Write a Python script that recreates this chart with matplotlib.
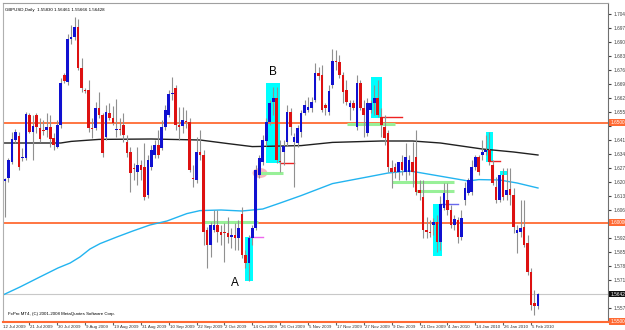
import matplotlib.pyplot as plt
from matplotlib.patches import Rectangle, Ellipse
from matplotlib.transforms import blended_transform_factory

# GBPUSD daily candles (oldest first)
opens = [1.6208, 1.6223, 1.6303, 1.6413, 1.6433, 1.6323, 1.6323, 1.6538, 1.6453, 1.6538,
         1.6473, 1.6463, 1.6463, 1.6478, 1.6423, 1.6378, 1.6488, 1.6738, 1.6703, 1.6918,
         1.6928, 1.6978, 1.6773, 1.6663, 1.6663, 1.6473, 1.6473, 1.6573, 1.6538, 1.6428,
         1.6548, 1.6523, 1.6463, 1.6468, 1.6488, 1.6403, 1.6353, 1.6273, 1.6253, 1.6288,
         1.6278, 1.6138, 1.6278, 1.6338, 1.6388, 1.6373, 1.6478, 1.6538, 1.6643, 1.6673,
         1.6488, 1.6483, 1.6508, 1.6503, 1.6223, 1.6213, 1.6353, 1.6338, 1.5963, 1.5888,
         1.5963, 1.5988, 1.5953, 1.5953, 1.5948, 1.5928, 1.5938, 1.5923, 1.6043, 1.5838,
         1.5798, 1.5923, 1.5973, 1.6238, 1.6303, 1.6408, 1.6503, 1.6603, 1.6623, 1.6308,
         1.6353, 1.6403, 1.6553, 1.6403, 1.6398, 1.6453, 1.6548, 1.6563, 1.6573, 1.6613,
         1.6748, 1.6738, 1.6588, 1.6553, 1.6688, 1.6808, 1.6803, 1.6738, 1.6663, 1.6578,
         1.6598, 1.6478, 1.6698, 1.6573, 1.6448, 1.6563, 1.6598, 1.6623, 1.6528, 1.6478,
         1.6448, 1.6273, 1.6278, 1.6253, 1.6303, 1.6253, 1.6253, 1.6303, 1.6328, 1.6163,
         1.6128, 1.5963, 1.5953, 1.5988, 1.6003, 1.5903, 1.6073, 1.6113, 1.6063, 1.5988,
         1.6013, 1.5928, 1.6113, 1.6148, 1.6153, 1.6278, 1.6328, 1.6338, 1.6353, 1.6363,
         1.6288, 1.6178, 1.6113, 1.6238, 1.6138, 1.6168, 1.6138, 1.5948, 1.5953, 1.5978,
         1.5898, 1.5753, 1.5598, 1.5583]
highs = [1.6223, 1.6323, 1.6453, 1.6468, 1.6453, 1.6373, 1.6553, 1.6548, 1.6538, 1.6548,
         1.6523, 1.6513, 1.6548, 1.6538, 1.6448, 1.6513, 1.6723, 1.6748, 1.6943, 1.6988,
         1.7028, 1.7018, 1.6823, 1.6673, 1.6713, 1.6523, 1.6603, 1.6653, 1.6548, 1.6588,
         1.6598, 1.6583, 1.6618, 1.6523, 1.6548, 1.6438, 1.6378, 1.6298, 1.6378, 1.6313,
         1.6398, 1.6338, 1.6388, 1.6413, 1.6463, 1.6513, 1.6588, 1.6663, 1.6728, 1.6688,
         1.6578, 1.6578, 1.6563, 1.6523, 1.6288, 1.6428, 1.6463, 1.6363, 1.5978, 1.6003,
         1.6063, 1.6063, 1.5988, 1.5998, 1.6028, 1.5973, 1.5998, 1.6013, 1.6078, 1.5863,
         1.5938, 1.5988, 1.6288, 1.6338, 1.6438, 1.6523, 1.6613, 1.6678, 1.6678, 1.6413,
         1.6413, 1.6588, 1.6573, 1.6448, 1.6488, 1.6563, 1.6613, 1.6628, 1.6628, 1.6798,
         1.6778, 1.6788, 1.6598, 1.6688, 1.6868, 1.6863, 1.6838, 1.6753, 1.6713, 1.6613,
         1.6613, 1.6738, 1.6713, 1.6613, 1.6623, 1.6613, 1.6688, 1.6713, 1.6573, 1.6538,
         1.6463, 1.6313, 1.6298, 1.6303, 1.6338, 1.6398, 1.6338, 1.6403, 1.6463, 1.6213,
         1.6213, 1.6028, 1.6013, 1.6023, 1.6038, 1.6133, 1.6198, 1.6198, 1.6088, 1.6038,
         1.6028, 1.6063, 1.6203, 1.6223, 1.6313, 1.6338, 1.6338, 1.6413, 1.6438, 1.6453,
         1.6313, 1.6228, 1.6238, 1.6273, 1.6273, 1.6273, 1.6173, 1.5988, 1.6113, 1.6113,
         1.5938, 1.5773, 1.5663, 1.5646]
lows = [1.6028, 1.6203, 1.6293, 1.6398, 1.6263, 1.6308, 1.6313, 1.6448, 1.6313, 1.6448,
        1.6403, 1.6438, 1.6428, 1.6378, 1.6363, 1.6373, 1.6473, 1.6698, 1.6688, 1.6893,
        1.6913, 1.6763, 1.6653, 1.6648, 1.6453, 1.6423, 1.6463, 1.6523, 1.6328, 1.6413,
        1.6513, 1.6488, 1.6428, 1.6438, 1.6403, 1.6328, 1.6153, 1.6213, 1.6188, 1.6213,
        1.6113, 1.6123, 1.6263, 1.6323, 1.6323, 1.6363, 1.6463, 1.6528, 1.6613, 1.6463,
        1.6413, 1.6448, 1.6473, 1.6253, 1.6178, 1.6198, 1.6313, 1.5888, 1.5773, 1.5828,
        1.5953, 1.5903, 1.5888, 1.5803, 1.5898, 1.5873, 1.5863, 1.5863, 1.5823, 1.5773,
        1.5708, 1.5888, 1.5963, 1.6223, 1.6288, 1.6383, 1.6488, 1.6538, 1.6298, 1.6253,
        1.6288, 1.6383, 1.6438, 1.6178, 1.6378, 1.6428, 1.6538, 1.6553, 1.6553, 1.6603,
        1.6713, 1.6553, 1.6538, 1.6538, 1.6673, 1.6763, 1.6723, 1.6598, 1.6588, 1.6513,
        1.6563, 1.6463, 1.6563, 1.6428, 1.6433, 1.6548, 1.6538, 1.6528, 1.6428, 1.6388,
        1.6253, 1.6173, 1.6223, 1.6213, 1.6238, 1.6213, 1.6238, 1.6178, 1.6138, 1.6113,
        1.5923, 1.5923, 1.5928, 1.5938, 1.5853, 1.5863, 1.6063, 1.6038, 1.5973, 1.5963,
        1.5898, 1.5913, 1.6088, 1.6138, 1.6138, 1.6263, 1.6238, 1.6313, 1.6338, 1.6288,
        1.6188, 1.6098, 1.6103, 1.6113, 1.6113, 1.6088, 1.5948, 1.5848, 1.5928, 1.5878,
        1.5738, 1.5563, 1.5538, 1.5567]
closes = [1.6218, 1.6313, 1.6418, 1.6453, 1.6278, 1.6328, 1.6543, 1.6453, 1.6483, 1.6478,
          1.6418, 1.6458, 1.6478, 1.6418, 1.6388, 1.6488, 1.6698, 1.6708, 1.6918, 1.6928,
          1.6978, 1.6773, 1.6673, 1.6658, 1.6473, 1.6468, 1.6573, 1.6538, 1.6348, 1.6553,
          1.6523, 1.6498, 1.6468, 1.6463, 1.6438, 1.6348, 1.6248, 1.6268, 1.6288, 1.6263,
          1.6128, 1.6313, 1.6363, 1.6388, 1.6338, 1.6478, 1.6563, 1.6643, 1.6648, 1.6488,
          1.6478, 1.6513, 1.6503, 1.6263, 1.6218, 1.6353, 1.6338, 1.5953, 1.5888, 1.5988,
          1.5988, 1.5953, 1.5938, 1.5948, 1.5928, 1.5938, 1.5923, 1.5973, 1.5838, 1.5798,
          1.5923, 1.5973, 1.6263, 1.6323, 1.6413, 1.6503, 1.6598, 1.6623, 1.6313, 1.6303,
          1.6383, 1.6553, 1.6478, 1.6428, 1.6473, 1.6548, 1.6588, 1.6578, 1.6603, 1.6748,
          1.6733, 1.6563, 1.6573, 1.6658, 1.6808, 1.6803, 1.6738, 1.6653, 1.6603, 1.6598,
          1.6573, 1.6698, 1.6573, 1.6538, 1.6598, 1.6598, 1.6623, 1.6538, 1.6488, 1.6423,
          1.6278, 1.6253, 1.6253, 1.6303, 1.6263, 1.6328, 1.6313, 1.6253, 1.6153, 1.6148,
          1.5963, 1.5953, 1.5948, 1.6003, 1.5903, 1.6093, 1.6148, 1.6063, 1.5988, 1.6018,
          1.5928, 1.6023, 1.6173, 1.6213, 1.6278, 1.6328, 1.6253, 1.6353, 1.6363, 1.6303,
          1.6198, 1.6113, 1.6238, 1.6128, 1.6163, 1.6138, 1.5978, 1.5963, 1.5973, 1.5888,
          1.5753, 1.5588, 1.5583, 1.5643]

date_labels = ["12 Jul 2009", "21 Jul 2009", "30 Jul 2009", "9 Aug 2009", "19 Aug 2009",
               "31 Aug 2009", "10 Sep 2009", "22 Sep 2009", "2 Oct 2009", "14 Oct 2009",
               "26 Oct 2009", "5 Nov 2009", "17 Nov 2009", "27 Nov 2009", "9 Dec 2009",
               "21 Dec 2009", "4 Jan 2010", "14 Jan 2010", "26 Jan 2010", "5 Feb 2010"]

# moving averages, sampled at bar index
ma_slow_idx = [-0.6, 16, 19, 27, 42, 56, 64, 71, 85, 94, 108, 117, 125, 137, 146, 153]
ma_slow_val = [1.6398, 1.6398, 1.6406, 1.6416, 1.6418, 1.6413, 1.6395, 1.6380, 1.6385,
               1.6401, 1.6408, 1.6408, 1.6398, 1.6368, 1.6353, 1.6338]
ma_fast_idx = [-0.6, 4.3, 10, 15.2, 18.7, 21.5, 24.4, 27.3, 32.1, 36.7, 41.6, 46.5, 52.2,
               56, 62, 68, 74, 79, 85, 94, 104, 110, 116, 119, 128, 133, 136, 142, 147, 153]
ma_fast_val = [1.5638, 1.5678, 1.5728, 1.5773, 1.5798, 1.5828, 1.5868, 1.5895, 1.5928,
               1.5958, 1.5988, 1.6008, 1.6045, 1.6060, 1.6063, 1.6058, 1.6068, 1.6098,
               1.6135, 1.6195, 1.6228, 1.6248, 1.6258, 1.6250, 1.6223, 1.6208, 1.6215,
               1.6213, 1.6198, 1.6173]

levels = [1.6500, 1.6000]
last_price = 1.56428
price_ticks = [1.5574 + 0.007 * k for k in range(22)]

# highlighted boxes: (start idx, end idx, low, high)
boxes = [(68.9, 71.2, 1.5708, 1.5928), (74.9, 78.9, 1.6298, 1.6698),
         (105.0, 108.2, 1.6523, 1.6728), (122.8, 125.4, 1.5833, 1.6093),
         (138.0, 140.0, 1.6303, 1.6453), (142.0, 144.0, 1.6238, 1.6258)]
green_marks = [(56.8, 72.6, 1.6003), (72.6, 79.8, 1.6248), (98.2, 112.0, 1.6493),
               (111.0, 129.0, 1.6203), (118.0, 129.0, 1.6158)]
red_marks = [(79.0, 83.0, 1.6298), (108.0, 114.0, 1.6528), (139.0, 142.0, 1.6308)]

fig = plt.figure(figsize=(6.25, 3.3), dpi=100)
ax = fig.add_axes([3 / 625, 8 / 330, 605 / 625, 319 / 330])
ax.set_xlim(-0.57, 173.1)
ax.set_ylim(1.5503, 1.7098)

for x0, x1, lo, hi in boxes:
    ax.add_patch(Rectangle((x0, lo), x1 - x0, hi - lo, color="#00ffff", zorder=1, lw=0))
ax.add_patch(Ellipse((73.2, 1.6248), 4.3, 0.005, color="#f7a8b0", alpha=0.8, zorder=1, lw=0))

for lv in levels:
    ax.axhline(lv, color="#ff6a33", lw=1.3, zorder=2)
ax.axhline(last_price, color="#c8c8c8", lw=0.8, zorder=2)
ax.plot(ma_slow_idx, ma_slow_val, color="#202020", lw=1.0, zorder=2)
ax.plot(ma_fast_idx, ma_fast_val, color="#22b4f0", lw=1.0, zorder=2)
for x0, x1, y in green_marks:
    ax.plot([x0, x1], [y, y], color="#98f098", lw=2.2, zorder=2, solid_capstyle="butt")
for x0, x1, y in red_marks:
    ax.plot([x0, x1], [y, y], color="#ee2222", lw=1.0, zorder=2)
ax.plot([70.3, 74.0], [1.5928, 1.5928], color="#ee66ee", lw=1.0, zorder=2)
ax.plot([125.0, 130.0], [1.6093, 1.6093], color="#6a6aee", lw=1.0, zorder=2)

# candles
for i, (o, h, l, c) in enumerate(zip(opens, highs, lows, closes)):
    ax.vlines(i, l, h, color="#909090", lw=0.8, zorder=3)
    if abs(c - o) < 0.0004:
        ax.hlines((o + c) / 2, i - 0.38, i + 0.38, color="#606060", lw=0.8, zorder=4)
        continue
    col = "#1010d0" if c > o else "#dd1111"
    ax.bar(i, abs(c - o), bottom=min(o, c), width=0.75, color=col, lw=0, zorder=4)

small = dict(fontsize=3.2, family="Liberation Sans")
ax.text(66, 1.5698, "A", fontsize=8.5, ha="center", va="center", family="Liberation Sans")
ax.text(77, 1.6753, "B", fontsize=8.5, ha="center", va="center", family="Liberation Sans")
ax.text(0.004, 0.985, "GBPUSD,Daily  1.55830 1.56461 1.55666 1.56428", transform=ax.transAxes,
        va="top", ha="left", **small)
ax.text(0.008, 0.018, "FxPro MT4, (C) 2001-2008 MetaQuotes Software Corp.", transform=ax.transAxes,
        va="bottom", ha="left", **small)

# axes styling
ax.spines["right"].set_color("#707070")
ax.spines["left"].set_color("#b0b0b0")
ax.spines["top"].set_color("#a0a0a0")
ax.spines["top"].set_linestyle((0, (1, 1)))
ax.spines["bottom"].set_color("#ff6a33")
ax.spines["bottom"].set_linewidth(1.5)

# right price scale; labels under the level boxes are left out
covered = [1.6484, 1.5994, 1.5644]
ax.yaxis.tick_right()
ax.set_yticks(price_ticks)
ax.set_yticklabels(["" if any(abs(p - q) < 1e-6 for q in covered) else "%.5f" % p
                    for p in price_ticks])
ax.tick_params(axis="y", length=2.5, pad=1.5, colors="#404040")
for t in ax.get_yticklabels():
    t.set_fontsize(3.4)
    t.set_family("Liberation Sans")

ax.set_xticks([8 * k - 1 for k in range(1, len(date_labels))])
ax.set_xticklabels([])
ax.tick_params(axis="x", length=2.5, colors="#606060")
tr = blended_transform_factory(ax.transData, ax.transAxes)
for k, lab in enumerate(date_labels):
    ax.text(8 * k - 0.7, -0.008, lab, transform=tr, va="top", ha="left",
            color="#303030", clip_on=False, **small)

# price boxes on the right axis
trr = blended_transform_factory(ax.transAxes, ax.transData)
for lv, txt, bg in [(1.6500, "1.65000", "#ff6a33"), (1.6000, "1.60000", "#ff6a33"),
                    (last_price, "1.56428", "#101010"), (1.5505, "1.55000", "#ff6a33")]:
    ax.text(1.004, lv, txt, transform=trr, va="center", ha="left", color="white",
            clip_on=False, fontsize=3.4, family="Liberation Sans",
            bbox=dict(boxstyle="square,pad=0.2", fc=bg, ec="none"))

fig.savefig("out.png", dpi=100)
